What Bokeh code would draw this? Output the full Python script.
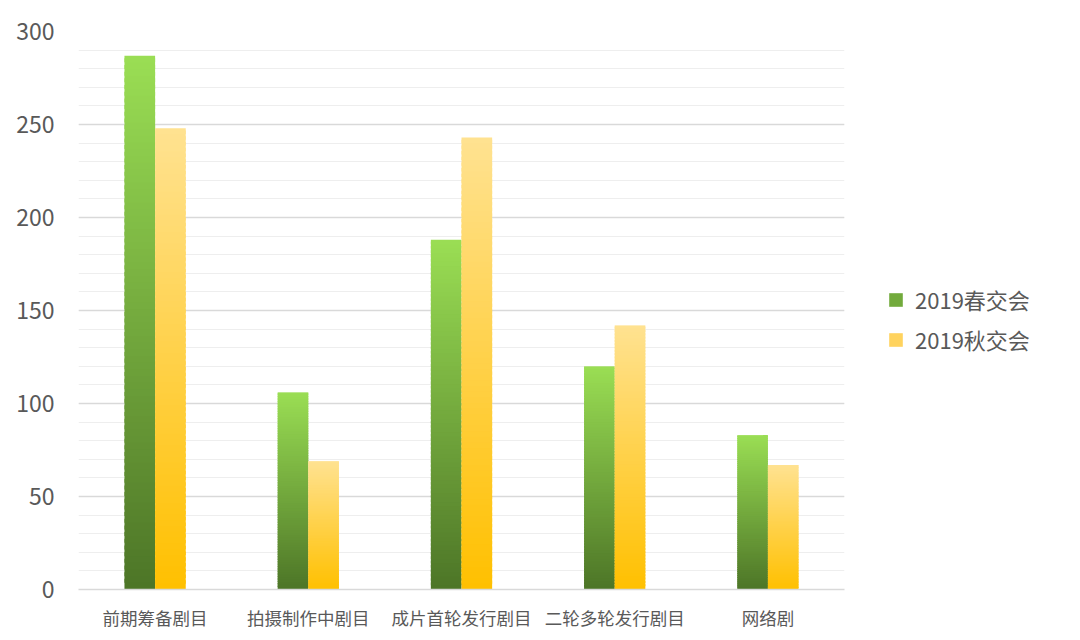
from bokeh.plotting import figure
from bokeh.models import Legend, LegendItem, ColumnDataSource, FixedTicker
from bokeh.transform import dodge
from bokeh.embed import file_html
from bokeh.resources import INLINE

categories = ["前期筹备剧目", "拍摄制作中剧目", "成片首轮发行剧目", "二轮多轮发行剧目", "网络剧"]
spring = [287, 106, 188, 120, 83]
autumn = [248, 69, 243, 142, 67]
series_names = ["2019春交会", "2019秋交会"]

FONT = "Noto Sans CJK SC"
N = 80

def lerp(c1, c2, t):
    a = [int(c1[i:i + 2], 16) for i in (1, 3, 5)]
    b = [int(c2[i:i + 2], 16) for i in (1, 3, 5)]
    return "#%02x%02x%02x" % tuple(round(a[k] + (b[k] - a[k]) * t) for k in range(3))

def gradient_source(values, bottom_color, top_color):
    xs, bots, tops, cols = [], [], [], []
    for cat, v in zip(categories, values):
        for i in range(N):
            xs.append(cat)
            bots.append(v * i / N)
            tops.append(min(v, v * (i + 1.6) / N))
            cols.append(lerp(bottom_color, top_color, (i + 0.5) / N))
    return ColumnDataSource(dict(x=xs, bottom=bots, top=tops, color=cols))

p = figure(x_range=categories, y_range=(0, 300), frame_width=766, frame_height=558,
           output_backend="svg", toolbar_location=None,
           min_border_left=78, min_border_right=220, min_border_top=31, min_border_bottom=42)

g_src = gradient_source(spring, "#4d7527", "#9ade54")
y_src = gradient_source(autumn, "#ffc000", "#ffe291")

p.vbar(x=dodge("x", -0.1, range=p.x_range), bottom="bottom", top="top", width=0.2,
       source=g_src, fill_color="color", line_color=None)
p.vbar(x=dodge("x", 0.1, range=p.x_range), bottom="bottom", top="top", width=0.2,
       source=y_src, fill_color="color", line_color=None)

# legend proxies (drawn outside the visible range)
lg = p.vbar(x=[categories[0]], bottom=[-200], top=[-100], width=0.2,
            fill_color="#72aa3c", line_color=None)
ly = p.vbar(x=[categories[0]], bottom=[-200], top=[-100], width=0.2,
            fill_color="#ffd35e", line_color=None)

legend = Legend(items=[LegendItem(label=series_names[0], renderers=[lg]),
                       LegendItem(label=series_names[1], renderers=[ly])],
                location=(43, 234), orientation="vertical",
                label_text_font=FONT, label_text_font_size="22px", label_text_color="#595959",
                glyph_width=17, glyph_height=17, label_standoff=11, spacing=8,
                border_line_color=None, background_fill_alpha=0, padding=0, margin=0)
p.add_layout(legend, "right")

p.outline_line_color = None
p.background_fill_color = "white"
p.xgrid.grid_line_color = None
p.ygrid.ticker = FixedTicker(ticks=[50, 100, 150, 200, 250, 300],
                             minor_ticks=list(range(10, 300, 10)))
p.ygrid.grid_line_color = "#d9d9d9"
p.ygrid.grid_line_width = 1.5
p.ygrid.minor_grid_line_color = "#eeeeee"
p.ygrid.minor_grid_line_width = 1.2

p.yaxis.ticker = FixedTicker(ticks=[0, 50, 100, 150, 200, 250, 300])
p.yaxis.axis_line_color = None
p.yaxis.major_tick_line_color = None
p.yaxis.minor_tick_line_color = None
p.yaxis.major_label_text_font = FONT
p.yaxis.major_label_text_font_size = "23px"
p.yaxis.major_label_text_color = "#595959"
p.yaxis.major_label_standoff = 18

p.xaxis.axis_line_color = "#d9d9d9"
p.xaxis.axis_line_width = 1.5
p.xaxis.major_tick_line_color = None
p.xaxis.minor_tick_line_color = None
p.xaxis.major_label_text_font = FONT
p.xaxis.major_label_text_font_size = "17.5px"
p.xaxis.major_label_text_color = "#595959"
p.xaxis.major_label_standoff = 9
p.x_range.range_padding = 0

open("out.html", "w").write(file_html(p, INLINE))
